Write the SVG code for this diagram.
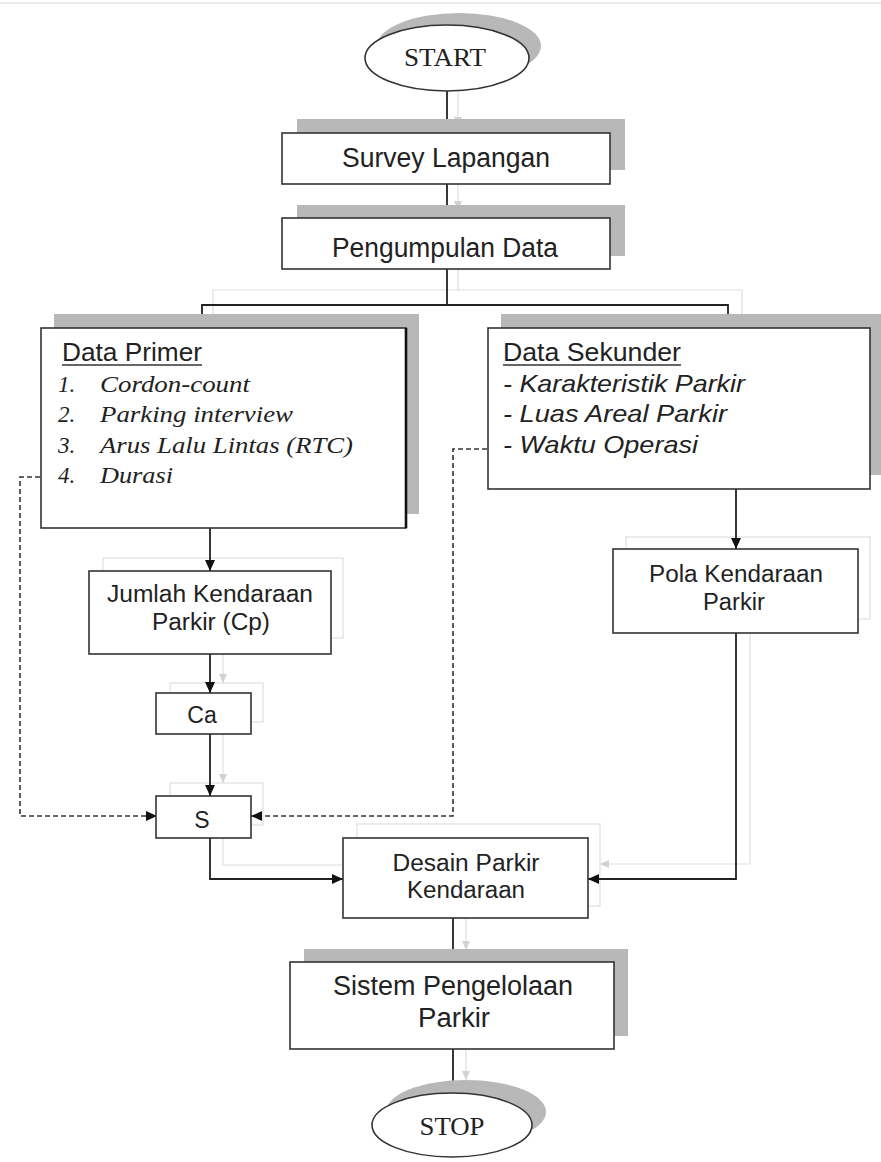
<svg xmlns="http://www.w3.org/2000/svg" width="881" height="1162" viewBox="0 0 881 1162">
<defs>
<marker id="ah" markerWidth="12" markerHeight="12" refX="11" refY="6" orient="auto" markerUnits="userSpaceOnUse">
<path d="M0,1 L11,6 L0,11 Z" fill="#111"/>
</marker>
<marker id="gh" markerWidth="10" markerHeight="10" refX="9" refY="5" orient="auto" markerUnits="userSpaceOnUse">
<path d="M0,1 L9,5 L0,9 Z" fill="#d2d2d2"/>
</marker>
<style>
.box{fill:#fff;stroke:#333;stroke-width:1.6}
.shadow{fill:#b8b8b8}
.ghost{fill:none;stroke:#e0e0e0;stroke-width:1.2}
.conn{fill:none;stroke:#222;stroke-width:1.8}
.dash{fill:none;stroke:#333;stroke-width:1.6;stroke-dasharray:5 3}
.sans{font-family:"Liberation Sans",Arial,sans-serif;fill:#222}
.serif{font-family:"Liberation Serif","Times New Roman",serif;fill:#222}
.it{font-style:italic}
</style>
</defs>
<rect x="0" y="0" width="881" height="1162" fill="#fff"/>
<line x1="0" y1="3" x2="881" y2="3" stroke="#ececec" stroke-width="2"/>

<g id="ghosts">
<line class="ghost" x1="458" y1="91" x2="458" y2="126" marker-end="url(#gh)"/>
<line class="ghost" x1="458" y1="184" x2="458" y2="210" marker-end="url(#gh)"/>
<polyline class="ghost" points="458,269 458,290 213,290 213,316"/>
<polyline class="ghost" points="458,290 742,290 742,316"/>
<rect class="ghost" x="103" y="558" width="240" height="80"/>
<line class="ghost" x1="223" y1="638" x2="223" y2="683" marker-end="url(#gh)"/>
<rect class="ghost" x="170" y="683" width="93" height="39"/>
<line class="ghost" x1="223" y1="722" x2="223" y2="783" marker-end="url(#gh)"/>
<rect class="ghost" x="170" y="783" width="93" height="42"/>
<polyline class="ghost" points="223,825 223,865 357,865" marker-end="url(#gh)"/>
<rect class="ghost" x="626" y="537" width="244" height="82"/>
<polyline class="ghost" points="750,619 750,864 600,864" marker-end="url(#gh)"/>
<rect class="ghost" x="357" y="824" width="243" height="82"/>
<line class="ghost" x1="466" y1="906" x2="466" y2="950" marker-end="url(#gh)"/>
<line class="ghost" x1="466" y1="1049" x2="466" y2="1080" marker-end="url(#gh)"/>
</g>

<g id="connectors">
<line class="conn" x1="447" y1="91" x2="447" y2="133" marker-end="url(#ah)"/>
<line class="conn" x1="447" y1="184" x2="447" y2="218" marker-end="url(#ah)"/>
<polyline class="conn" points="447,269 447,305"/>
<polyline class="conn" points="202,328 202,305 728,305 728,328"/>
<line class="conn" x1="210" y1="528" x2="210" y2="571" marker-end="url(#ah)"/>
<line class="conn" x1="210" y1="654" x2="210" y2="693" marker-end="url(#ah)"/>
<line class="conn" x1="210" y1="734" x2="210" y2="796" marker-end="url(#ah)"/>
<polyline class="conn" points="210,838 210,879 343,879" marker-end="url(#ah)"/>
<line class="conn" x1="736" y1="489" x2="736" y2="549" marker-end="url(#ah)"/>
<polyline class="conn" points="736,633 736,879 588,879" marker-end="url(#ah)"/>
<line class="conn" x1="453" y1="918" x2="453" y2="962" marker-end="url(#ah)"/>
<line class="conn" x1="453" y1="1049" x2="453" y2="1093" marker-end="url(#ah)"/>
<polyline class="dash" points="56,477 20,477 20,816 157,816" marker-end="url(#ah)"/>
<polyline class="dash" points="503,449 453,449 453,816 251,816" marker-end="url(#ah)"/>
</g>

<g id="start">
<ellipse class="shadow" cx="459" cy="46" rx="82" ry="33"/>
<ellipse cx="447" cy="58" rx="82" ry="33" fill="#fff" stroke="#333" stroke-width="1.6"/>
<text class="serif" x="445" y="66" font-size="26" text-anchor="middle" textLength="82" lengthAdjust="spacingAndGlyphs">START</text>
</g>

<g id="survey">
<rect class="shadow" x="297" y="119" width="328" height="51"/>
<rect class="box" x="282" y="133" width="328" height="51"/>
<text class="sans" x="446" y="167" font-size="27" text-anchor="middle" textLength="208" lengthAdjust="spacingAndGlyphs">Survey Lapangan</text>
</g>

<g id="pengumpulan">
<rect class="shadow" x="297" y="205" width="328" height="51"/>
<rect class="box" x="282" y="218" width="328" height="51"/>
<text class="sans" x="445" y="257" font-size="27" text-anchor="middle" textLength="226" lengthAdjust="spacingAndGlyphs">Pengumpulan Data</text>
</g>

<g id="data-primer">
<rect class="shadow" x="54" y="314" width="365" height="200"/>
<rect class="box" x="41" y="328" width="365" height="200"/>
<line x1="406" y1="328" x2="406" y2="528" stroke="#111" stroke-width="2.6"/>
<text class="sans" x="62" y="361" font-size="25" textLength="140" lengthAdjust="spacingAndGlyphs">Data Primer</text>
<line x1="62" y1="365" x2="202" y2="365" stroke="#333" stroke-width="1.3"/>
<text class="serif it" x="58" y="392" font-size="23">1.</text>
<text class="serif it" x="100" y="392" font-size="23" textLength="150" lengthAdjust="spacingAndGlyphs">Cordon-count</text>
<text class="serif it" x="58" y="422" font-size="23">2.</text>
<text class="serif it" x="100" y="422" font-size="23" textLength="193" lengthAdjust="spacingAndGlyphs">Parking interview</text>
<text class="serif it" x="58" y="453" font-size="23">3.</text>
<text class="serif it" x="100" y="453" font-size="23" textLength="253" lengthAdjust="spacingAndGlyphs">Arus Lalu Lintas (RTC)</text>
<text class="serif it" x="58" y="483" font-size="23">4.</text>
<text class="serif it" x="100" y="483" font-size="23" textLength="73" lengthAdjust="spacingAndGlyphs">Durasi</text>
</g>

<g id="data-sekunder">
<rect class="shadow" x="501" y="314" width="382" height="161"/>
<rect class="box" x="488" y="328" width="382" height="161"/>
<text class="sans" x="503" y="361" font-size="25" textLength="178" lengthAdjust="spacingAndGlyphs">Data Sekunder</text>
<line x1="503" y1="365" x2="681" y2="365" stroke="#333" stroke-width="1.3"/>
<text class="sans it" x="503" y="392" font-size="24" textLength="242" lengthAdjust="spacingAndGlyphs">- Karakteristik Parkir</text>
<text class="sans it" x="503" y="422" font-size="24" textLength="224" lengthAdjust="spacingAndGlyphs">- Luas Areal Parkir</text>
<text class="sans it" x="503" y="453" font-size="24" textLength="195" lengthAdjust="spacingAndGlyphs">- Waktu Operasi</text>
</g>

<g id="jumlah">
<rect class="box" x="89" y="571" width="242" height="83"/>
<text class="sans" x="210" y="602" font-size="23" text-anchor="middle" textLength="206" lengthAdjust="spacingAndGlyphs">Jumlah Kendaraan</text>
<text class="sans" x="211" y="630" font-size="23" text-anchor="middle" textLength="118" lengthAdjust="spacingAndGlyphs">Parkir (Cp)</text>
</g>

<g id="ca">
<rect class="box" x="156" y="693" width="95" height="41"/>
<text class="sans" x="202" y="723" font-size="23" text-anchor="middle">Ca</text>
</g>

<g id="s">
<rect class="box" x="156" y="796" width="95" height="42"/>
<text class="sans" x="202" y="828" font-size="23" text-anchor="middle">S</text>
</g>

<g id="pola">
<rect class="box" x="613" y="549" width="245" height="84"/>
<text class="sans" x="736" y="582" font-size="23" text-anchor="middle" textLength="174" lengthAdjust="spacingAndGlyphs">Pola Kendaraan</text>
<text class="sans" x="734" y="610" font-size="23" text-anchor="middle" textLength="62" lengthAdjust="spacingAndGlyphs">Parkir</text>
</g>

<g id="desain">
<rect class="box" x="343" y="838" width="245" height="80"/>
<text class="sans" x="466" y="871" font-size="23" text-anchor="middle" textLength="147" lengthAdjust="spacingAndGlyphs">Desain Parkir</text>
<text class="sans" x="466" y="898" font-size="23" text-anchor="middle" textLength="118" lengthAdjust="spacingAndGlyphs">Kendaraan</text>
</g>

<g id="sistem">
<rect class="shadow" x="304" y="949" width="324" height="87"/>
<rect class="box" x="290" y="962" width="324" height="87"/>
<text class="sans" x="453" y="995" font-size="27" text-anchor="middle" textLength="240" lengthAdjust="spacingAndGlyphs">Sistem Pengelolaan</text>
<text class="sans" x="454" y="1027" font-size="27" text-anchor="middle" textLength="72" lengthAdjust="spacingAndGlyphs">Parkir</text>
</g>

<g id="stop">
<ellipse class="shadow" cx="466" cy="1112" rx="80" ry="32"/>
<ellipse cx="452" cy="1125" rx="80" ry="32" fill="#fff" stroke="#333" stroke-width="1.6"/>
<text class="serif" x="452" y="1135" font-size="26" text-anchor="middle" textLength="65" lengthAdjust="spacingAndGlyphs">STOP</text>
</g>
</svg>
